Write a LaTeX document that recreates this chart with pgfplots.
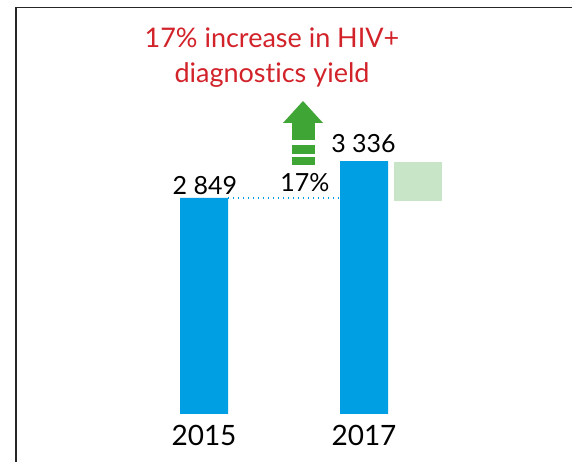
\documentclass[border=0pt]{standalone}
\usepackage{pgfplots}
\pgfplotsset{compat=1.18}
\usepackage{fontspec}
\setmainfont{Lato}[Ligatures={NoCommon,NoRare}]
\definecolor{barblue}{RGB}{0,159,227}
\definecolor{lightgreen}{RGB}{200,229,199}
\definecolor{arrowgreen}{RGB}{63,165,53}
\definecolor{titlered}{RGB}{210,35,42}
\begin{document}
\begin{tikzpicture}[x=1pt,y=1pt]
\path[use as bounding box, fill=white] (0,0) rectangle (572,462);
\draw[black!85, line width=1.6pt] (15.8,0) -- (15.8,454.6) -- (572,454.6);
\begin{axis}[
  at={(44pt,48pt)}, anchor=south west,
  scale only axis, width=480pt, height=303.3pt,
  xmin=-1, xmax=2, ymin=0, ymax=4000,
  axis lines=left, axis line style={draw=none,-},
  major tick length=0pt, tick style={draw=none},
  ytick=\empty,
  xtick={0,1}, xticklabels={2015,2017},
  xticklabel style={anchor=base, yshift=-32pt, font=\fontsize{28}{30}\selectfont, text=black},
  clip=false,
]
\addplot[ybar, bar width=48pt, fill=barblue, draw=none] coordinates {(0,2849) (1,3336)};
\addplot[fill=lightgreen, draw=none] coordinates {(1.1875,2810) (1.4875,2810) (1.4875,3325) (1.1875,3325)} -- cycle;
\addplot[barblue, line width=1.4pt, dash pattern=on 1.4pt off 3.6pt] coordinates {(0.15,2849) (0.85,2849)};
\node[anchor=base, font=\fontsize{25}{27}\selectfont] at (axis cs:0.005,2849) [yshift=3pt] {2 849};
\node[anchor=base, font=\fontsize{25}{27}\selectfont] at (axis cs:0.997,3336) [yshift=9pt] {3 336};
\end{axis}
\node[anchor=base, font=\fontsize{25}{27}\selectfont] at (305,270) {17\%};
\fill[arrowgreen] (303,361) -- (323,339) -- (283,339) -- cycle;
\fill[arrowgreen] (292,339.5) rectangle (315,322);
\fill[arrowgreen] (292,308) rectangle (315,317);
\fill[arrowgreen] (292,297) rectangle (315,305);
\node[anchor=base, text=titlered, font=\fontsize{27}{30}\selectfont] at (272,414) {17\% increase in HIV+};
\node[anchor=base, text=titlered, font=\fontsize{27}{30}\selectfont] at (272,379) {diagnostics yield};
\end{tikzpicture}
\end{document}
